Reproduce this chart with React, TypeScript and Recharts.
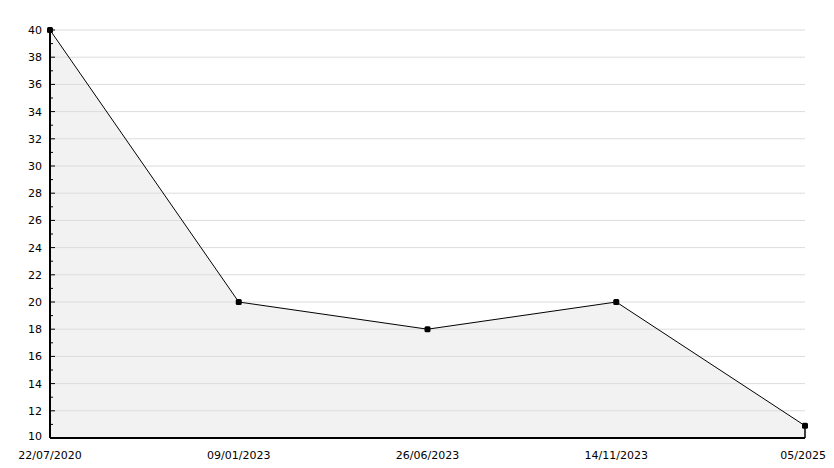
import React from 'react';
import { ComposedChart, Area, Line, XAxis, YAxis, ReferenceLine } from 'recharts';

const dateLabels = ['22/07/2020', '09/01/2023', '26/06/2023', '14/11/2023', '05/2025'];
const values = [40, 20, 18, 20, 10.9];
const yTicks = [10,11,12,13,14,15,16,17,18,19,20,21,22,23,24,25,26,27,28,29,30,31,32,33,34,35,36,37,38,39,40];
const gridValues = [12,14,16,18,20,22,24,26,28,30,32,34,36,38,40];

const data = values.map((v, i) => ({ i, v }));
const FONT = '"DejaVu Sans", sans-serif';

const YTick = (props: any) => {
  const { y, payload } = props;
  const val = payload.value as number;
  const major = val % 2 === 0;
  const ax = 50;
  return (
    <g>
      <line x1={ax} x2={ax + (major ? 5 : 3)} y1={y} y2={y} stroke="#000" strokeWidth={1} />
      {major && (
        <text x={ax - 8} y={val === 10 ? y - 2 : y} dy={4} textAnchor="end" fontSize={11} fontFamily={FONT} fill="#000">
          {val}
        </text>
      )}
    </g>
  );
};

const XTick = (props: any) => {
  const { x, y, payload } = props;
  const label = dateLabels[payload.value];
  const last = payload.value === dateLabels.length - 1;
  return (
    <text x={last ? x + 21 : x} y={y} dy={13} textAnchor={last ? 'end' : 'middle'} fontSize={11} fontFamily={FONT} fill="#000">
      {label}
    </text>
  );
};

const Dot = (props: any) => {
  const { cx, cy } = props;
  return <rect x={cx - 3} y={cy - 3} width={6} height={6} rx={1.5} fill="#000" />;
};

export default function App() {
  return (
    <div style={{ position: 'absolute', left: 0, top: 0, width: 834, height: 468, background: '#fff' }}>
      <ComposedChart width={834} height={468} data={data} margin={{ top: 30, right: 29, bottom: 0, left: 0 }}>
        <XAxis
          dataKey="i"
          type="number"
          domain={[0, 4]}
          ticks={[0, 1, 2, 3, 4]}
          tick={<XTick />}
          tickLine={false}
          axisLine={false}
          height={30}
          interval={0}
        />
        <YAxis
          type="number"
          domain={[10, 40]}
          ticks={yTicks}
          tick={<YTick />}
          tickLine={false}
          axisLine={false}
          width={50}
          interval={0}
        />
        <Area dataKey="v" baseValue={10} fill="#f2f2f2" fillOpacity={1} stroke="none" isAnimationActive={false} dot={false} activeDot={false} />
        {gridValues.map((g) => (
          <ReferenceLine key={g} y={g} stroke="#dcdcdc" strokeWidth={1} />
        ))}
        <ReferenceLine segment={[{ x: 4, y: 10 }, { x: 4, y: values[4] }]} stroke="#000" strokeWidth={1.5} />
        <ReferenceLine y={10} stroke="#000" strokeWidth={2} />
        <ReferenceLine x={0} stroke="#000" strokeWidth={2} />
        <Line dataKey="v" stroke="#000" strokeWidth={1} dot={<Dot />} activeDot={false} isAnimationActive={false} />
      </ComposedChart>
    </div>
  );
}
